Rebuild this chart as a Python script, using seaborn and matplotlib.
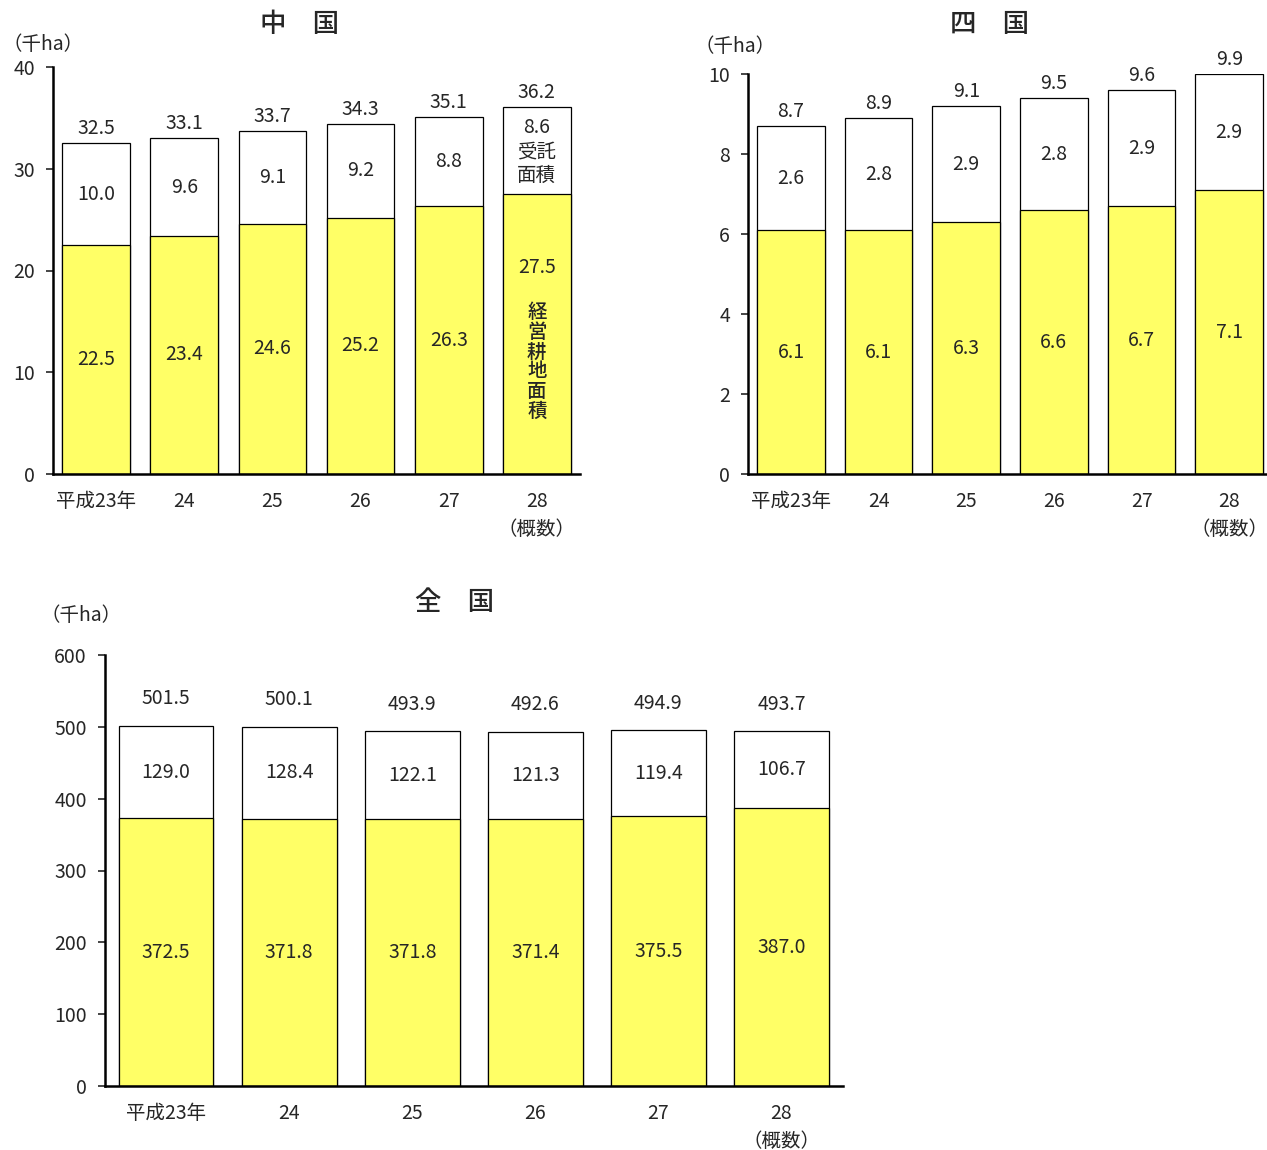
import matplotlib
matplotlib.use("Agg")
import matplotlib.pyplot as plt
import seaborn as sns
import pandas as pd
import numpy as np

sns.set_style("white")
plt.rcParams['font.family'] = ['Noto Sans CJK JP', 'DejaVu Sans']

years = ["平成23年", "24", "25", "26", "27", "28\n（概数）"]

chugoku_keiei = [22.5, 23.4, 24.6, 25.2, 26.3, 27.5]
chugoku_jutaku = [10.0, 9.6, 9.1, 9.2, 8.8, 8.6]
chugoku_total = ["32.5", "33.1", "33.7", "34.3", "35.1", "36.2"]

shikoku_keiei = [6.1, 6.1, 6.3, 6.6, 6.7, 7.1]
shikoku_jutaku = [2.6, 2.8, 2.9, 2.8, 2.9, 2.9]
shikoku_total = ["8.7", "8.9", "9.1", "9.5", "9.6", "9.9"]

zenkoku_keiei = [372.5, 371.8, 371.8, 371.4, 375.5, 387.0]
zenkoku_jutaku = [129.0, 128.4, 122.1, 121.3, 119.4, 106.7]
zenkoku_total = ["501.5", "500.1", "493.9", "492.6", "494.9", "493.7"]

YELLOW = "#FFFF66"
W, H = 1267, 1150
FS = 14
fig = plt.figure(figsize=(W / 100, H / 100), dpi=100)


def px_axes(left, top, right, bottom):
    return fig.add_axes([left / W, 1 - bottom / H, (right - left) / W, (bottom - top) / H])


def draw(ax, keiei, jutaku, totals, ymax, ystep, xlim, fs, total_off, skip_last_inner=False):
    df = pd.DataFrame({"year": years, "keiei": keiei, "jutaku": jutaku})
    df["sum"] = df["keiei"] + df["jutaku"]
    sns.barplot(data=df, x="year", y="sum", order=years, color="white", edgecolor="black",
                linewidth=0.9, width=0.77, saturation=1, ax=ax)
    sns.barplot(data=df, x="year", y="keiei", order=years, color=YELLOW, edgecolor="black",
                linewidth=0.9, width=0.77, saturation=1, ax=ax)
    ax.set_xlabel("")
    ax.set_ylabel("")
    ax.set_ylim(0, ymax)
    ax.set_xlim(*xlim)
    ticks = np.arange(0, ymax + ystep / 2, ystep)
    ax.set_yticks(ticks)
    ax.set_yticklabels([f"{int(v)}" for v in ticks], fontsize=fs)
    ax.tick_params(axis="y", direction="out", length=5, width=1.2, pad=8, left=True)
    ax.tick_params(axis="x", length=0, pad=12, labelsize=fs)
    for lbl in ax.get_xticklabels():
        lbl.set_linespacing(1.45)
    for s in ["top", "right"]:
        ax.spines[s].set_visible(False)
    for s in ["left", "bottom"]:
        ax.spines[s].set_linewidth(1.8)
        ax.spines[s].set_color("black")
    for i in range(len(years)):
        k = df["keiei"][i]
        j = df["jutaku"][i]
        ax.annotate(totals[i], (i, k + j), xytext=(0, total_off), textcoords="offset points",
                    ha="center", va="bottom", fontsize=fs)
        if skip_last_inner and i == len(years) - 1:
            continue
        ax.text(i, k / 2, f"{k:.1f}", ha="center", va="center", fontsize=fs)
        ax.text(i, k + j / 2, f"{j:.1f}", ha="center", va="center", fontsize=fs)
    return df


ax1 = px_axes(53, 67, 580, 474)
draw(ax1, chugoku_keiei, chugoku_jutaku, chugoku_total, 40, 10, (-0.49, 5.49), FS, 3,
     skip_last_inner=True)
n = len(years) - 1
ax1.text(n, 34.1, f"{chugoku_jutaku[n]:.1f}", ha="center", va="center", fontsize=FS)
ax1.text(n, 30.5, "受託\n面積", ha="center", va="center", fontsize=FS, linespacing=1.2)
ax1.text(n, 20.25, f"{chugoku_keiei[n]:.1f}", ha="center", va="center", fontsize=FS)
ax1.text(n, 11.0, "経\n営\n耕\n地\n面\n積", ha="center", va="center", fontsize=FS,
         linespacing=1.05, fontweight="medium")

ax2 = px_axes(748, 74, 1266, 474)
draw(ax2, shikoku_keiei, shikoku_jutaku, shikoku_total, 10, 2, (-0.49, 5.42), FS, 3)

ax3 = px_axes(105, 655, 843, 1086)
draw(ax3, zenkoku_keiei, zenkoku_jutaku, zenkoku_total, 600, 100, (-0.496, 5.5), FS, 12)

fig.text(300 / W, 1 - 25 / H, "中　国", ha="center", va="center", fontsize=19, fontweight="medium")
fig.text(990 / W, 1 - 25 / H, "四　国", ha="center", va="center", fontsize=19, fontweight="medium")
fig.text(455 / W, 1 - 602 / H, "全　国", ha="center", va="center", fontsize=19, fontweight="medium")
fig.text(3 / W, 1 - 44 / H, "（千ha）", ha="left", va="center", fontsize=FS)
fig.text(695 / W, 1 - 46 / H, "（千ha）", ha="left", va="center", fontsize=FS)
fig.text(40 / W, 1 - 616 / H, "（千ha）", ha="left", va="center", fontsize=FS)

fig.savefig("out.png", dpi=100, facecolor="white")
